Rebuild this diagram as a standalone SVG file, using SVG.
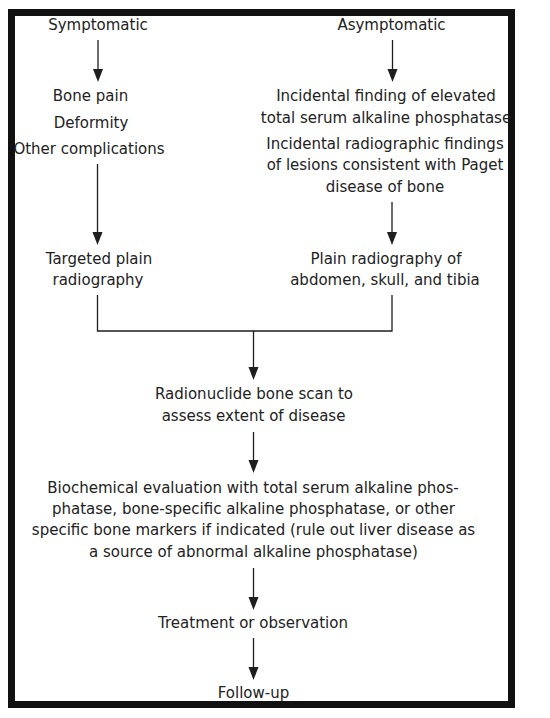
<svg xmlns="http://www.w3.org/2000/svg" width="550" height="718" viewBox="0 0 550 718">
<style>
text{font-family:"DejaVu Sans","Liberation Sans",Arial,sans-serif;font-size:15px;fill:#222;text-anchor:middle}
.ln{stroke:#1e1e1e;stroke-width:1.3;fill:none}
.ah{fill:#1e1e1e}
</style>
<rect x="0" y="0" width="550" height="718" fill="#fff"/>
<rect x="11.5" y="12.5" width="500" height="692" fill="none" stroke="#111" stroke-width="7"/>
<g id="connectors">
<line class="ln" x1="98" y1="40" x2="98" y2="72"/>
<path class="ah" d="M93,69 L103,69 L98,82 Z"/>
<line class="ln" x1="392.5" y1="40" x2="392.5" y2="72"/>
<path class="ah" d="M387.5,69 L397.5,69 L392.5,82 Z"/>
<line class="ln" x1="97.5" y1="164" x2="97.5" y2="235"/>
<path class="ah" d="M92.5,232 L102.5,232 L97.5,245 Z"/>
<line class="ln" x1="392" y1="202" x2="392" y2="235"/>
<path class="ah" d="M387,232 L397,232 L392,245 Z"/>
<polyline class="ln" points="97.5,295 97.5,331 392,331 392,295"/>
<line class="ln" x1="253.5" y1="331" x2="253.5" y2="370"/>
<path class="ah" d="M248.5,367 L258.5,367 L253.5,380 Z"/>
<line class="ln" x1="253.5" y1="432" x2="253.5" y2="463"/>
<path class="ah" d="M248.5,460 L258.5,460 L253.5,473 Z"/>
<line class="ln" x1="253.5" y1="568" x2="253.5" y2="600"/>
<path class="ah" d="M248.5,597 L258.5,597 L253.5,610 Z"/>
<line class="ln" x1="253.5" y1="638" x2="253.5" y2="670"/>
<path class="ah" d="M248.5,667 L258.5,667 L253.5,680 Z"/>
</g>
<g id="symptomatic"><text x="98" y="30">Symptomatic</text></g>
<g id="asymptomatic"><text x="391.5" y="30">Asymptomatic</text></g>
<g id="symptoms">
<text x="90.5" y="101">Bone pain</text>
<text x="91" y="128">Deformity</text>
<text x="89" y="154">Other complications</text>
</g>
<g id="incidental">
<text x="386" y="101">Incidental finding of elevated</text>
<text x="386" y="122.5">total serum alkaline phosphatase</text>
<text x="385" y="149">Incidental radiographic findings</text>
<text x="385" y="170">of lesions consistent with Paget</text>
<text x="385" y="192">disease of bone</text>
</g>
<g id="targeted">
<text x="99" y="264">Targeted plain</text>
<text x="98" y="285">radiography</text>
</g>
<g id="plain">
<text x="386" y="264">Plain radiography of</text>
<text x="385" y="285">abdomen, skull, and tibia</text>
</g>
<g id="scan">
<text x="254" y="399">Radionuclide bone scan to</text>
<text x="253.5" y="421">assess extent of disease</text>
</g>
<g id="biochem">
<text x="253" y="493">Biochemical evaluation with total serum alkaline phos-</text>
<text x="253.5" y="513.5">phatase, bone-specific alkaline phosphatase, or other</text>
<text x="253.5" y="535">specific bone markers if indicated (rule out liver disease as</text>
<text x="253.5" y="557">a source of abnormal alkaline phosphatase)</text>
</g>
<g id="treatment"><text x="253" y="628">Treatment or observation</text></g>
<g id="followup"><text x="253.5" y="698">Follow-up</text></g>
</svg>
